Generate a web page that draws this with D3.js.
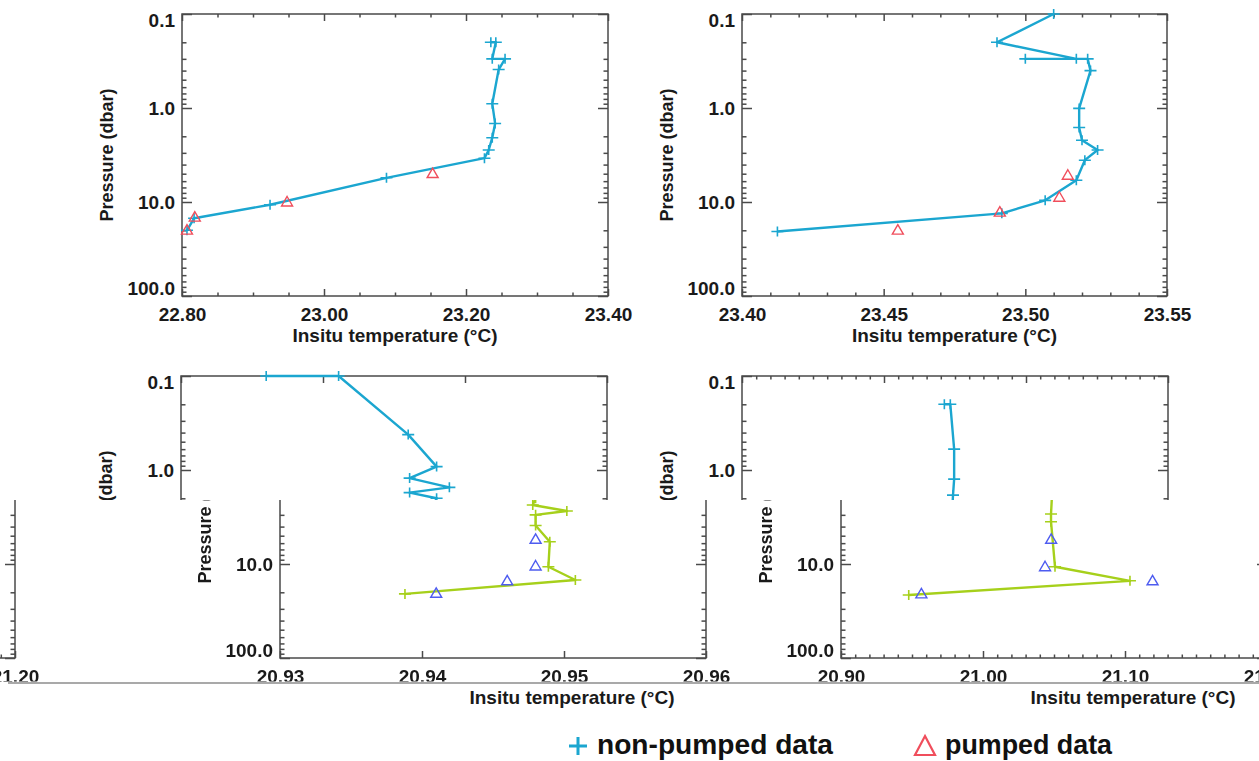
<!DOCTYPE html>
<html>
<head>
<meta charset="utf-8">
<script src="https://cdn.jsdelivr.net/npm/d3@7"></script>
<style>
  html, body { margin: 0; padding: 0; background: #fff; }
  svg { display: block; }
  text { font-family: "Liberation Sans", Arial, Helvetica, sans-serif; font-weight: bold; }
</style>
</head>
<body>
<script>
// ---- Profile data: [in-situ temperature (°C), pressure (dbar)] ----
const castA_nonPumped = [
  [23.235, 0.20], [23.242, 0.20], [23.237, 0.30], [23.255, 0.30], [23.246, 0.39],
  [23.237, 0.90], [23.241, 1.46], [23.237, 2.07], [23.232, 2.80], [23.226, 3.42],
  [23.088, 5.53], [22.924, 10.7], [22.817, 14.9], [22.807, 20.0]
];
const castA_pumped = [[23.153, 4.98], [22.948, 10.0], [22.818, 14.5], [22.807, 19.9]];

const castB_nonPumped = [
  [23.510, 0.10], [23.490, 0.20], [23.518, 0.30], [23.500, 0.30], [23.522, 0.30],
  [23.523, 0.40], [23.519, 1.01], [23.519, 1.61], [23.520, 2.20], [23.5255, 2.80],
  [23.521, 3.59], [23.518, 5.86], [23.507, 9.60], [23.4917, 13.2], [23.4125, 20.6]
];
const castB_pumped = [[23.515, 5.19], [23.512, 8.90], [23.491, 12.8], [23.455, 19.9]];

const castC_nonPumped = [
  [20.9360, 0.10], [20.9411, 0.10], [20.9460, 0.42], [20.9480, 0.92], [20.9461, 1.22],
  [20.9489, 1.53], [20.9461, 1.74], [20.9480, 2.00], [20.9478, 2.36], [20.9502, 2.73],
  [20.9480, 3.00], [20.9480, 3.90], [20.9490, 5.80], [20.9489, 10.7], [20.9508, 14.8],
  [20.9388, 20.8]
];
const castC_pumped = [[20.948, 5.46], [20.948, 10.5], [20.946, 15.1], [20.941, 20.5]];

const castD_nonPumped = [
  [21.0425, 0.20], [21.0467, 0.20], [21.0494, 0.60], [21.0494, 1.25], [21.0486, 1.85],
  [21.0479, 2.94], [21.0479, 3.55], [21.0507, 10.7], [21.1035, 15.1], [20.9477, 21.4]
];
const castD_pumped = [[21.048, 5.46], [21.0437, 10.7], [21.1194, 15.1], [20.9566, 20.8]];

// ---- Axis ticks and labels ----
const pressureDomain = [0.1, 100];
const pressureTicks = [0.1, 1, 10, 100];
const pressureLabels = ["0.1", "1.0", "10.0", "100.0"];

const tempTicksA = [22.80, 23.00, 23.20, 23.40];
const tempLabelsA = ["22.80", "23.00", "23.20", "23.40"];
const tempTicksB = [23.40, 23.45, 23.50, 23.55];
const tempLabelsB = ["23.40", "23.45", "23.50", "23.55"];
const tempTicksC = [20.93, 20.94, 20.95, 20.96];
const tempLabelsC = ["20.93", "20.94", "20.95", "20.96"];
const tempTicksD = [20.90, 21.00, 21.10, 21.20];
const tempLabelsD = ["20.90", "21.00", "21.10", "21.20"];

const xTitle = "Insitu temperature (°C)";
const yTitle = "Pressure (dbar)";
const legendItems = ["non-pumped data", "pumped data"];

// ---- Layout ----
const W = 1259, H = 761;
const COLOR_LINE = "#1ba6d0";
const COLOR_PUMP = "#f04e5c";
const INK = "#4a4a4a";

const panels = [
  { left: 182, right: 608, top: 14, bottom: 296, xDomain: [22.80, 23.40], xTicks: tempTicksA, xLabels: tempLabelsA, minorStep: 0.05, non: castA_nonPumped, pump: castA_pumped },
  { left: 742, right: 1167, top: 14, bottom: 296, xDomain: [23.40, 23.55], xTicks: tempTicksB, xLabels: tempLabelsB, minorStep: 0.01, non: castB_nonPumped, pump: castB_pumped },
  { left: 181, right: 607, top: 376, bottom: 658, xDomain: [20.93, 20.96], xTicks: tempTicksC, xLabels: tempLabelsC, minorStep: 0, non: castC_nonPumped, pump: castC_pumped },
  { left: 742, right: 1168, top: 376, bottom: 658, xDomain: [20.90, 21.20], xTicks: tempTicksD, xLabels: tempLabelsD, minorStep: 0.01, non: castD_nonPumped, pump: castD_pumped }
];

function minorValues(domain, step, majors) {
  if (!step) return [];
  const n = Math.round((domain[1] - domain[0]) / step);
  const out = [];
  for (let i = 0; i <= n; i++) {
    const v = domain[0] + i * step;
    if (!majors.some(m => Math.abs(m - v) < step * 0.25)) out.push(v);
  }
  return out;
}
const pressureMinor = [];
[0.1, 1, 10].forEach(d => { for (let k = 2; k <= 9; k++) pressureMinor.push(d * k); });

function styleAxis(sel) {
  sel.select(".domain").remove();
  sel.attr("color", INK).attr("font-size", 19).attr("font-family", null);
  sel.selectAll(".tick line").attr("stroke-width", 1.5);
  sel.selectAll(".tick text").attr("fill", "#1a1a1a");
  return sel;
}

function drawPanel(g, p) {
  const x = d3.scaleLinear().domain(p.xDomain).range([p.left, p.right]);
  const y = d3.scaleLog().domain(pressureDomain).range([p.top, p.bottom]);
  const xMinor = minorValues(p.xDomain, p.minorStep, p.xTicks);

  // bottom axis with labels
  styleAxis(g.append("g").attr("transform", `translate(0,${p.bottom})`)
    .call(d3.axisBottom(x).tickValues(p.xTicks).tickSizeInner(-7).tickSizeOuter(0)
      .tickPadding(12).tickFormat((d, i) => p.xLabels[i])));
  styleAxis(g.append("g").attr("transform", `translate(0,${p.bottom})`)
    .call(d3.axisBottom(x).tickValues(xMinor).tickSizeInner(-3.5).tickSizeOuter(0).tickFormat("")));
  // top axis
  styleAxis(g.append("g").attr("transform", `translate(0,${p.top})`)
    .call(d3.axisTop(x).tickValues(p.xTicks).tickSizeInner(-7).tickSizeOuter(0).tickFormat("")));
  styleAxis(g.append("g").attr("transform", `translate(0,${p.top})`)
    .call(d3.axisTop(x).tickValues(xMinor).tickSizeInner(-3.5).tickSizeOuter(0).tickFormat("")));
  // left axis with labels
  const la = styleAxis(g.append("g").attr("transform", `translate(${p.left},0)`)
    .call(d3.axisLeft(y).tickValues(pressureTicks).tickSizeInner(-10).tickSizeOuter(0)
      .tickPadding(7).tickFormat((d, i) => pressureLabels[i])));
  la.selectAll(".tick text").attr("dy", d => d === 0.1 ? "0.68em" : d === 100 ? "-0.08em" : "0.32em");
  styleAxis(g.append("g").attr("transform", `translate(${p.left},0)`)
    .call(d3.axisLeft(y).tickValues(pressureMinor).tickSizeInner(-4.5).tickSizeOuter(0).tickFormat("")));
  // right axis
  styleAxis(g.append("g").attr("transform", `translate(${p.right},0)`)
    .call(d3.axisRight(y).tickValues(pressureTicks).tickSizeInner(-10).tickSizeOuter(0).tickFormat("")));
  styleAxis(g.append("g").attr("transform", `translate(${p.right},0)`)
    .call(d3.axisRight(y).tickValues(pressureMinor).tickSizeInner(-4.5).tickSizeOuter(0).tickFormat("")));

  // frame
  g.append("rect").attr("x", p.left).attr("y", p.top)
    .attr("width", p.right - p.left).attr("height", p.bottom - p.top)
    .attr("fill", "none").attr("stroke", INK).attr("stroke-width", 1.5);

  // axis titles
  g.append("text").attr("x", (p.left + p.right) / 2).attr("y", p.bottom + 39)
    .attr("dy", "0.35em").attr("text-anchor", "middle").attr("font-size", 19)
    .attr("fill", "#1a1a1a").text(xTitle);
  g.append("text").attr("transform", `translate(${p.left - 75},${(p.top + p.bottom) / 2}) rotate(-90)`)
    .attr("dy", "0.35em").attr("text-anchor", "middle").attr("font-size", 18)
    .attr("fill", "#1a1a1a").text(yTitle);

  // non-pumped profile: line plus '+' markers
  const line = d3.line().x(d => x(d[0])).y(d => y(d[1]));
  g.append("path").datum(p.non).attr("d", line).attr("fill", "none")
    .attr("stroke", COLOR_LINE).attr("stroke-width", 2.4).attr("stroke-linejoin", "round");
  g.append("g").selectAll("path").data(p.non).join("path")
    .attr("transform", d => `translate(${x(d[0])},${y(d[1])})`)
    .attr("d", "M-6,0H6M0,-5V5").attr("stroke", COLOR_LINE).attr("stroke-width", 1.6).attr("fill", "none");

  // pumped samples: open triangles
  g.append("g").selectAll("path").data(p.pump).join("path")
    .attr("transform", d => `translate(${x(d[0])},${y(d[1])})`)
    .attr("d", "M0,-5.5L5.5,4L-5.5,4Z").attr("stroke", COLOR_PUMP).attr("stroke-width", 1.4).attr("fill", "none");
}

function drawLegend(g) {
  const lg = g.append("g");
  lg.append("path").attr("transform", "translate(400,746)").attr("d", "M-9,0H9M0,-9V9")
    .attr("stroke", COLOR_LINE).attr("stroke-width", 3).attr("fill", "none");
  lg.append("text").attr("x", 419).attr("y", 754).attr("font-size", 27)
    .attr("textLength", 236).attr("lengthAdjust", "spacingAndGlyphs")
    .attr("fill", "#111").text(legendItems[0]);
  lg.append("path").attr("transform", "translate(747,746)").attr("d", "M0,-10L10,9L-10,9Z")
    .attr("stroke", COLOR_PUMP).attr("stroke-width", 2.2).attr("fill", "none");
  lg.append("text").attr("x", 767).attr("y", 754).attr("font-size", 27)
    .attr("textLength", 167).attr("lengthAdjust", "spacingAndGlyphs")
    .attr("fill", "#111").text(legendItems[1]);
}

function drawFigure(g) {
  panels.forEach(p => drawPanel(g.append("g"), p));
  drawLegend(g);
}

// ---- Page: the figure is laid out in horizontal strips ----
const svg = d3.select("body").append("svg").attr("width", W).attr("height", H);
const defs = svg.append("defs");
const strips = {};
function strip(id, y0, y1) {
  strips[id] = [y0, y1];
  defs.append("clipPath").attr("id", id).attr("clipPathUnits", "userSpaceOnUse")
    .append("rect").attr("x", 0).attr("y", y0).attr("width", W).attr("height", y1 - y0);
}
strip("stripTop", 0, 500);
strip("stripMid", 500, 684);
strip("stripLow", 684, H);

const swap = defs.append("filter").attr("id", "channelSwap").attr("filterUnits", "userSpaceOnUse")
  .attr("x", 0).attr("y", 0).attr("width", W).attr("height", H)
  .attr("color-interpolation-filters", "sRGB");
swap.append("feColorMatrix").attr("type", "matrix")
  .attr("values", "0 1 0 0 0  0 0 1 0 0  1 0 0 0 0  0 0 0 1 0");

// drop any text that falls wholly outside the strip it belongs to
function pruneTexts(g, id) {
  const [y0, y1] = strips[id];
  g.selectAll("text").each(function () {
    const r = this.getBoundingClientRect();
    if (r.bottom <= y0 || r.top >= y1 || r.right <= 0 || r.left >= W) this.remove();
  });
}

// upper strip: as laid out
const upperStrip = svg.append("g").attr("clip-path", "url(#stripTop)");
drawFigure(upperStrip);
pruneTexts(upperStrip, "stripTop");

// middle strip: offset to the right, wrapping around, with rotated colour channels
const middleStrip = svg.append("g").attr("clip-path", "url(#stripMid)").attr("filter", "url(#channelSwap)");
[99, 99 - 1252].forEach(dx => drawFigure(middleStrip.append("g").attr("transform", `translate(${dx},0)`)));
pruneTexts(middleStrip, "stripMid");

// lower strip: offset further right
const lowerStrip = svg.append("g").attr("clip-path", "url(#stripLow)");
drawFigure(lowerStrip.append("g").attr("transform", "translate(178,0)"));
pruneTexts(lowerStrip, "stripLow");

// seam between middle and lower strips
svg.append("rect").attr("x", 0).attr("y", 681.5).attr("width", W).attr("height", 2.5).attr("fill", "#fff");
svg.append("line").attr("x1", 8).attr("x2", W).attr("y1", 683).attr("y2", 683)
  .attr("stroke", "#555").attr("stroke-width", 1.2);
</script>
</body>
</html>
